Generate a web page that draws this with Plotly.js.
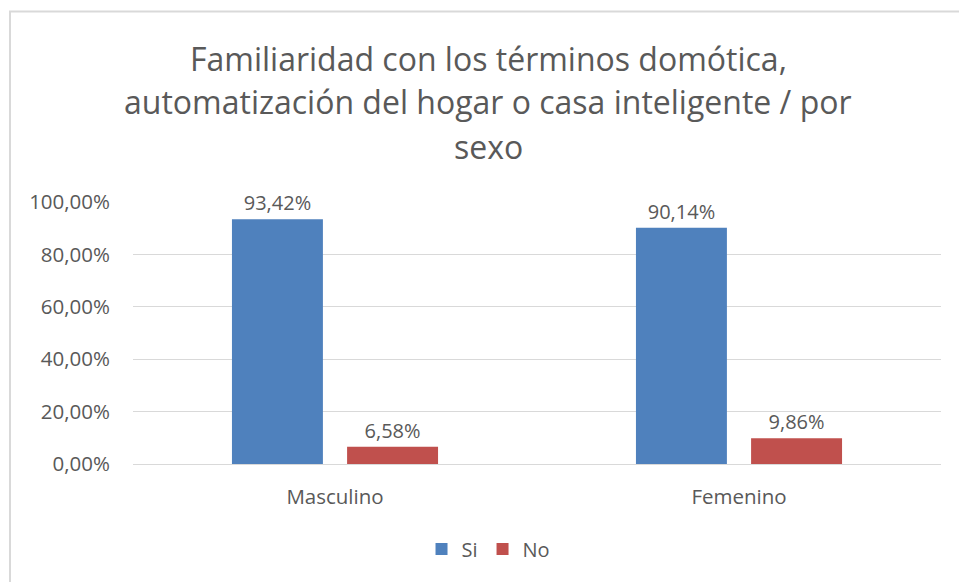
<!DOCTYPE html>
<html>
<head>
<meta charset="utf-8">
<script src="https://cdn.plot.ly/plotly-3.0.1.min.js"></script>
<style>
  html, body { margin: 0; padding: 0; background: #ffffff; }
  #chart { width: 959px; height: 582px; }
</style>
</head>
<body>
<div id="chart"></div>
<script>
var categories = ["Masculino", "Femenino"];
var seriesNames = ["Si", "No"];
var siValues = [0.9342, 0.9014];
var noValues = [0.0658, 0.0986];
var titleLines = [
  "Familiaridad con los términos domótica,",
  "automatización del hogar o casa inteligente / por",
  "sexo"
];

var FONT = "Open Sans, Calibri, Carlito, sans-serif";
var GRAY = "#595959";

var traces = [
  {
    type: "bar", name: seriesNames[0], x: categories, y: siValues,
    marker: { color: "#4F81BD" },
    texttemplate: "%{y:.2%}", textposition: "outside", cliponaxis: false,
    textfont: { family: FONT, size: 20, color: GRAY },
    hoverinfo: "skip"
  },
  {
    type: "bar", name: seriesNames[1], x: categories, y: noValues,
    marker: { color: "#C0504D" },
    texttemplate: "%{y:.2%}", textposition: "outside", cliponaxis: false,
    textfont: { family: FONT, size: 20, color: GRAY },
    hoverinfo: "skip"
  }
];

var titleY = [1.548, 1.382, 1.210];
var annotations = titleLines.map(function (t, i) {
  return {
    text: t, xref: "paper", yref: "paper", x: 0.4394, y: titleY[i],
    xanchor: "center", yanchor: "middle", showarrow: false,
    font: { family: FONT, size: 32, color: GRAY }
  };
});

var layout = {
  width: 959, height: 582,
  margin: { l: 133, r: 18, t: 201.7, b: 118, pad: 0 },
  paper_bgcolor: "#ffffff", plot_bgcolor: "#ffffff",
  separators: ",.",
  barmode: "group", bargap: 0.43, bargroupgap: 0.21,
  showlegend: true,
  legend: {
    orientation: "h", x: 0.440, xanchor: "center", y: -0.324, yanchor: "middle",
    font: { family: FONT, size: 20, color: GRAY }, itemwidth: 30, traceorder: "normal"
  },
  xaxis: {
    type: "category", showgrid: false, zeroline: false,
    showline: true, linecolor: "#d9d9d9", linewidth: 1,
    ticks: "", ticklabelstandoff: 14,
    tickfont: { family: FONT, size: 20.5, color: GRAY }
  },
  yaxis: {
    range: [0, 1], dtick: 0.2, tick0: 0, tickformat: ".2%",
    showgrid: true, gridcolor: "#d9d9d9", gridwidth: 1,
    zeroline: false, showline: false, ticks: "", ticklabelstandoff: 22,
    tickfont: { family: FONT, size: 20.5, color: GRAY }
  },
  annotations: annotations,
  shapes: [{
    type: "rect", xref: "paper", yref: "paper",
    x0: -0.1522, x1: 1.2, y0: -1, y1: 1.727,
    line: { color: "#d9d9d9", width: 2 }, fillcolor: "rgba(0,0,0,0)", layer: "below"
  }]
};

Plotly.newPlot("chart", traces, layout, { displayModeBar: false, staticPlot: true });
</script>
</body>
</html>
